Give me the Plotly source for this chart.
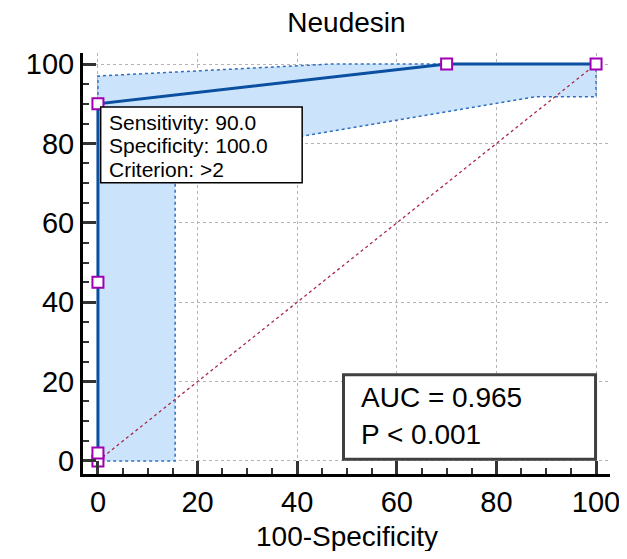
import plotly.graph_objects as go

# ROC data
roc_x = [0, 0, 0, 0, 70, 100]
roc_y = [0, 2, 45, 90, 100, 100]

# Confidence band polygon (upper edge then lower edge back)
band_x = [0, 0, 46.5, 100, 100, 88, 15.5, 15.5, 0]
band_y = [0, 97, 100, 100, 91.8, 91.8, 76.4, 0, 0]

diag_x = [0, 100]
diag_y = [0, 100]

tick_vals = [0, 20, 40, 60, 80, 100]
tick_text = ["0", "20", "40", "60", "80", "100"]

title_text = "Neudesin"
x_title = "100-Specificity"
info_lines = ["Sensitivity: 90.0", "Specificity: 100.0", "Criterion: >2"]
auc_lines = ["AUC = 0.965", "P < 0.001"]

FONT = "Liberation Sans, Arial, sans-serif"

fig = go.Figure()

fig.add_trace(go.Scatter(
    x=band_x, y=band_y, mode="lines", fill="toself",
    fillcolor="#cce4fb",
    line=dict(color="#2f6fc0", width=1.5, dash="dot"),
    hoverinfo="skip", showlegend=False))

fig.add_trace(go.Scatter(
    x=diag_x, y=diag_y, mode="lines",
    line=dict(color="#a82848", width=1.3, dash="dot"),
    hoverinfo="skip", showlegend=False))

fig.add_trace(go.Scatter(
    x=roc_x, y=roc_y, mode="lines",
    line=dict(color="#0a4fa0", width=3),
    showlegend=False))

fig.add_trace(go.Scatter(
    x=roc_x, y=roc_y, mode="markers",
    marker=dict(symbol="square", size=11, color="white",
                line=dict(color="#a000b4", width=2)),
    showlegend=False))

# info box
fig.add_shape(type="rect", x0=0.55, x1=41.0, y0=70.1, y1=89.2,
              line=dict(color="black", width=1.5), fillcolor="white", layer="above")
for i, t in enumerate(info_lines):
    fig.add_annotation(x=1.8, y=85.4 - i * 5.95, text=t, showarrow=False,
                       xanchor="left", yanchor="middle",
                       font=dict(family=FONT, size=21, color="black"))

# AUC box
fig.add_shape(type="rect", x0=49.3, x1=99.9, y0=0.4, y1=21.7,
              line=dict(color="#404040", width=3), fillcolor="white", layer="above")
for i, t in enumerate(auc_lines):
    fig.add_annotation(x=52.5, y=16.0 - i * 9.3, text=t, showarrow=False,
                       xanchor="left", yanchor="middle",
                       font=dict(family=FONT, size=28, color="black"))

# x-axis title as a paper annotation
fig.add_annotation(x=0.5, y=-0.1473, xref="paper", yref="paper", text=x_title,
                   showarrow=False, xanchor="center", yanchor="middle",
                   font=dict(family=FONT, size=28, color="black"))

axis_common = dict(
    showline=True, linecolor="black", linewidth=3,
    ticks="inside", ticklen=13, tickwidth=3, tickcolor="#333333",
    tickvals=tick_vals, ticktext=tick_text,
    showgrid=True, gridcolor="#b4b4b4", griddash="dot", gridwidth=1,
    zeroline=False, mirror=False, automargin=False,
    ticklabeloverflow="allow",
    tickfont=dict(family=FONT, size=29, color="black"),
    minor=dict(dtick=5, tick0=0, ticks="inside", ticklen=6, tickwidth=2,
               tickcolor="#333333", showgrid=False),
)

fig.update_xaxes(range=[-3.0, 102.8], **axis_common)
fig.update_yaxes(range=[-3.3, 102.8], **axis_common)

# page body adds an 8px margin, so the figure is 16px smaller than the window
fig.update_layout(
    width=611, height=543,
    margin=dict(l=75, r=9, t=45, b=77),
    paper_bgcolor="white", plot_bgcolor="white",
    title=dict(text=title_text, x=0.554, xanchor="center", y=0.974, yanchor="middle",
               font=dict(family=FONT, size=28, color="black")),
    showlegend=False,
)

fig.write_html("out.html")
